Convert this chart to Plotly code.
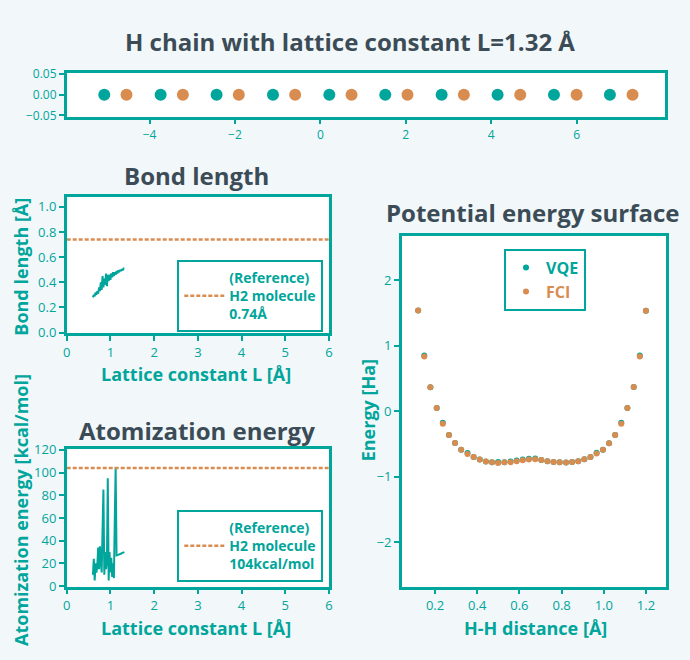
import plotly.graph_objects as go

TEAL = "#00A59B"
ORANGE = "#D98C50"
DARK = "#3B4C57"
BG = "#F2F7FA"
FONT = "Open Sans"

# --- H chain (L = 1.32 Å) atom positions
chain_a = [-5.06, -3.74, -2.43, -1.11, 0.21, 1.52, 2.84, 4.15, 5.47, 6.78]
chain_b = [-4.54, -3.22, -1.91, -0.59, 0.73, 2.04, 3.36, 4.68, 6.00, 7.31]

# --- lattice scan
lattice = [0.60, 0.62, 0.64, 0.66, 0.68, 0.70, 0.72, 0.74, 0.76, 0.78,
           0.80, 0.82, 0.84, 0.86, 0.88, 0.90, 0.92, 0.94, 0.96, 0.98,
           1.00, 1.02, 1.04, 1.06, 1.08, 1.10, 1.12, 1.14, 1.16, 1.18,
           1.20, 1.22, 1.24, 1.26, 1.28, 1.30, 1.32]
bond_len = [0.28, 0.30, 0.29, 0.32, 0.30, 0.33, 0.31, 0.36, 0.33, 0.40,
            0.34, 0.45, 0.36, 0.43, 0.38, 0.47, 0.37, 0.46, 0.41, 0.46,
            0.42, 0.47, 0.44, 0.48, 0.45, 0.48, 0.46, 0.49, 0.47, 0.495,
            0.48, 0.50, 0.49, 0.505, 0.495, 0.51, 0.51]
atom_e = [10, 24, 5, 20, 12, 18, 34, 15, 35, 20,
          12, 50, 85, 10, 30, 15, 22, 95, 5, 30,
          12, 25, 8, 20, 7, 60, 105, 27, 27, 27.5,
          28, 28, 28.5, 29, 29.5, 30, 30]
ref_bond = 0.74
ref_atom = 104

# --- potential energy surface
hh_dist = [0.120, 0.149, 0.178, 0.208, 0.237, 0.266, 0.295, 0.324, 0.354, 0.383,
           0.412, 0.441, 0.470, 0.499, 0.529, 0.558, 0.587, 0.616, 0.645, 0.675,
           0.704, 0.733, 0.762, 0.791, 0.821, 0.850, 0.879, 0.908, 0.937, 0.966,
           0.996, 1.025, 1.054, 1.083, 1.112, 1.142, 1.171, 1.200]
e_fci = [1.54, 0.84, 0.37, 0.05, -0.19, -0.36, -0.483, -0.585, -0.651, -0.697,
         -0.737, -0.768, -0.778, -0.788, -0.778, -0.778, -0.763, -0.748, -0.737, -0.732,
         -0.742, -0.763, -0.773, -0.778, -0.783, -0.773, -0.763, -0.732, -0.697, -0.646,
         -0.585, -0.488, -0.361, -0.188, 0.051, 0.372, 0.84, 1.537]
e_vqe = [1.54, 0.855, 0.37, 0.05, -0.175, -0.36, -0.483, -0.585, -0.636, -0.697,
         -0.737, -0.768, -0.778, -0.775, -0.778, -0.765, -0.750, -0.735, -0.725, -0.722,
         -0.742, -0.763, -0.773, -0.778, -0.783, -0.773, -0.763, -0.732, -0.697, -0.632,
         -0.585, -0.488, -0.361, -0.175, 0.051, 0.372, 0.855, 1.537]

W, H = 690, 660


def dx(a, b):
    return [a / W, b / W]


def dy(top, bottom):
    return [1 - bottom / H, 1 - top / H]


fig = go.Figure()

# chain
fig.add_trace(go.Scatter(x=chain_a, y=[0] * len(chain_a), mode="markers",
                         marker=dict(color=TEAL, size=12), xaxis="x", yaxis="y",
                         showlegend=False))
fig.add_trace(go.Scatter(x=chain_b, y=[0] * len(chain_b), mode="markers",
                         marker=dict(color=ORANGE, size=12), xaxis="x", yaxis="y",
                         showlegend=False))

# bond length
fig.add_trace(go.Scatter(x=lattice, y=bond_len, mode="lines",
                         line=dict(color=TEAL, width=2), xaxis="x2", yaxis="y2",
                         showlegend=False))
fig.add_trace(go.Scatter(x=[0, 6], y=[ref_bond, ref_bond], mode="lines",
                         line=dict(color=ORANGE, width=2.5, dash="4px,2px"),
                         xaxis="x2", yaxis="y2",
                         name="(Reference)<br>H2 molecule<br>0.74Å", legend="legend"))

# atomization energy
fig.add_trace(go.Scatter(x=lattice, y=atom_e, mode="lines",
                         line=dict(color=TEAL, width=2), xaxis="x3", yaxis="y3",
                         showlegend=False))
fig.add_trace(go.Scatter(x=[0, 6], y=[ref_atom, ref_atom], mode="lines",
                         line=dict(color=ORANGE, width=2.5, dash="4px,2px"),
                         xaxis="x3", yaxis="y3",
                         name="(Reference)<br>H2 molecule<br>104kcal/mol", legend="legend2"))

# PES
fig.add_trace(go.Scatter(x=hh_dist, y=e_vqe, mode="markers",
                         marker=dict(color=TEAL, size=6), xaxis="x4", yaxis="y4",
                         name=f"<span style='color:{TEAL}'>VQE</span>", legend="legend3"))
fig.add_trace(go.Scatter(x=hh_dist, y=e_fci, mode="markers",
                         marker=dict(color=ORANGE, size=6), xaxis="x4", yaxis="y4",
                         name=f"<span style='color:{ORANGE}'>FCI</span>", legend="legend3"))

axis_common = dict(showline=True, mirror=True, linecolor=TEAL, linewidth=2.5,
                   ticks="outside", tickcolor=TEAL, tickwidth=2, ticklen=5,
                   showgrid=False, zeroline=False, automargin=False,
                   tickfont=dict(family=FONT, size=13, color=TEAL))

top_axis = dict(axis_common, tickfont=dict(family=FONT, size=12, color=TEAL))

legend_common = dict(bgcolor="white", bordercolor=TEAL, borderwidth=2,
                     font=dict(family=FONT, size=14, color=TEAL, weight="bold"),
                     xanchor="right", yanchor="top", tracegroupgap=0, itemwidth=40)

fig.update_layout(
    width=W, height=H,
    margin=dict(l=0, r=0, t=0, b=0),
    paper_bgcolor=BG, plot_bgcolor="white",
    font=dict(family=FONT, color=TEAL),
    xaxis=dict(top_axis, domain=dx(66.7, 665), range=[-5.94, 8.07],
               tickvals=[-4, -2, 0, 2, 4, 6], anchor="y"),
    yaxis=dict(top_axis, domain=dy(72.7, 116.7), range=[-0.053, 0.053],
               tickvals=[-0.05, 0, 0.05], tickformat=".2f", anchor="x"),
    xaxis2=dict(axis_common, domain=dx(66.7, 329), range=[0, 6], dtick=1, anchor="y2"),
    yaxis2=dict(axis_common, domain=dy(196.7, 333.3), range=[-0.005, 1.08],
                tickvals=[0, 0.2, 0.4, 0.6, 0.8, 1.0], tickformat=".1f", anchor="x2"),
    xaxis3=dict(axis_common, domain=dx(66.7, 329), range=[0, 6], dtick=1, anchor="y3"),
    yaxis3=dict(axis_common, domain=dy(449.3, 586.7), range=[-0.5, 120.5],
                dtick=20, anchor="x3"),
    xaxis4=dict(axis_common, domain=dx(401.7, 666), range=[0.042, 1.295],
                tickvals=[0.2, 0.4, 0.6, 0.8, 1.0, 1.2], tickformat=".1f", anchor="y4"),
    yaxis4=dict(axis_common, domain=dy(236, 586.7), range=[-2.68, 2.68],
                tickvals=[-2, -1, 0, 1, 2], anchor="x4"),
    legend=dict(legend_common, x=323.3 / W, y=1 - 260 / H),
    legend2=dict(legend_common, x=323.3 / W, y=1 - 510 / H),
    legend3=dict(legend_common, x=545 / W, xanchor="center", y=1 - 248.7 / H,
                 itemwidth=30,
                 font=dict(family=FONT, size=16, color=TEAL, weight="bold")),
)

annotations = [
    dict(text="<b>H chain with lattice constant L=1.32 Å</b>", x=350 / W, y=1 - 42 / H,
         font=dict(size=24, color=DARK)),
    dict(text="<b>Bond length</b>", x=196.5 / W, y=1 - 175 / H,
         font=dict(size=24, color=DARK)),
    dict(text="<b>Atomization energy</b>", x=196.5 / W, y=1 - 430 / H,
         font=dict(size=24, color=DARK)),
    dict(text="<b>Potential energy surface</b>", x=532.5 / W, y=1 - 212.7 / H,
         font=dict(size=24, color=DARK)),
    dict(text="<b>Bond length [Å]</b>", x=21 / W, y=1 - 266.7 / H, textangle=-90,
         font=dict(size=18, color=TEAL)),
    dict(text="<b>Lattice constant L [Å]</b>", x=196 / W, y=1 - 374 / H,
         font=dict(size=18, color=TEAL)),
    dict(text="<b>Atomization energy [kcal/mol]</b>", x=21 / W, y=1 - 510 / H, textangle=-90,
         font=dict(size=18, color=TEAL)),
    dict(text="<b>Lattice constant L [Å]</b>", x=196 / W, y=1 - 628.3 / H,
         font=dict(size=18, color=TEAL)),
    dict(text="<b>Energy [Ha]</b>", x=368.3 / W, y=1 - 410 / H, textangle=-90,
         font=dict(size=18, color=TEAL)),
    dict(text="<b>H-H distance [Å]</b>", x=535 / W, y=1 - 628.3 / H,
         font=dict(size=18, color=TEAL)),
]
for a in annotations:
    a.update(xref="paper", yref="paper", showarrow=False, xanchor="center", yanchor="middle")
    a["font"]["family"] = FONT
fig.update_layout(annotations=annotations)

fig.write_html("out.html", config={"displayModeBar": False},
               post_script="document.body.style.margin='0px';")
